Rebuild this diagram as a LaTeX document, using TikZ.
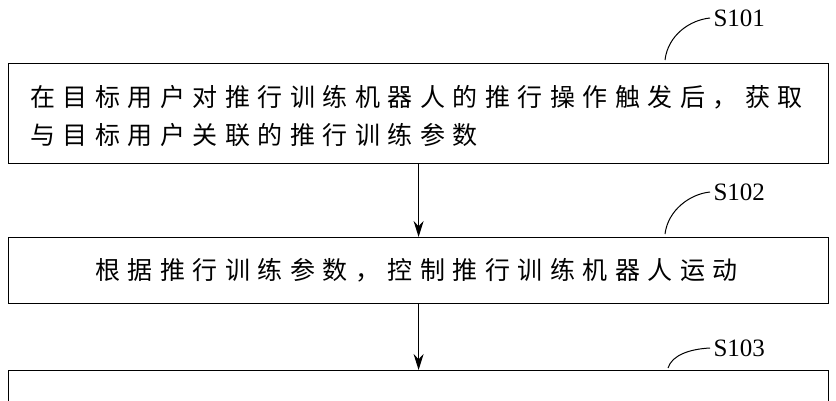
\documentclass[tikz,border=0pt]{standalone}
\usepackage{fontspec}
\usetikzlibrary{arrows.meta}
\newfontfamily\cjk[LetterSpace=30]{Noto Sans CJK SC}
\setmainfont{Liberation Serif}
\begin{document}
\begin{tikzpicture}[x=1pt,y=-1pt,
  box/.style={draw,line width=1.2pt},
  lbl/.style={font=\fontsize{25}{25}\selectfont,anchor=west},
  txt/.style={font=\cjk\fontsize{25}{38}\selectfont,anchor=west,inner sep=0},
  arr/.style={-{Stealth[length=16pt,width=10pt]},line width=1.2pt}]
\useasboundingbox (0,0) rectangle (836,400);
\clip (0,0) rectangle (836,400);
\node[box,minimum width=820,minimum height=100,inner sep=0,anchor=north west] (b1) at (8,63) {};
\node[txt] (t1) at (30,97) {在目标用户对推行训练机器人的推行操作触发后，获取};
\node[txt] (t1b) at (30,135) {与目标用户关联的推行训练参数};
\node[box,minimum width=820,minimum height=66,inner sep=0,anchor=north west] (b2) at (8,237) {};
\node[txt] (t2) at (95,270) {根据推行训练参数，控制推行训练机器人运动};
\node[box,minimum width=820,minimum height=60,inner sep=0,anchor=north west] (b3) at (8,370) {};
\draw[arr] (b1.south) -- (b2.north);
\draw[arr] (b2.south) -- (b3.north);
\node[lbl] (s1) at (710,18) {S101};
\node[lbl] (s2) at (710,192) {S102};
\node[lbl] (s3) at (710,348) {S103};
\draw[line width=1pt] (665,60) .. controls (668,35) and (690,20) .. (s1.west);
\draw[line width=1pt] (665,234) .. controls (668,210) and (690,194) .. (s2.west);
\draw[line width=1pt] (668,368) .. controls (672,355) and (690,349) .. (s3.west);
\end{tikzpicture}
\end{document}
